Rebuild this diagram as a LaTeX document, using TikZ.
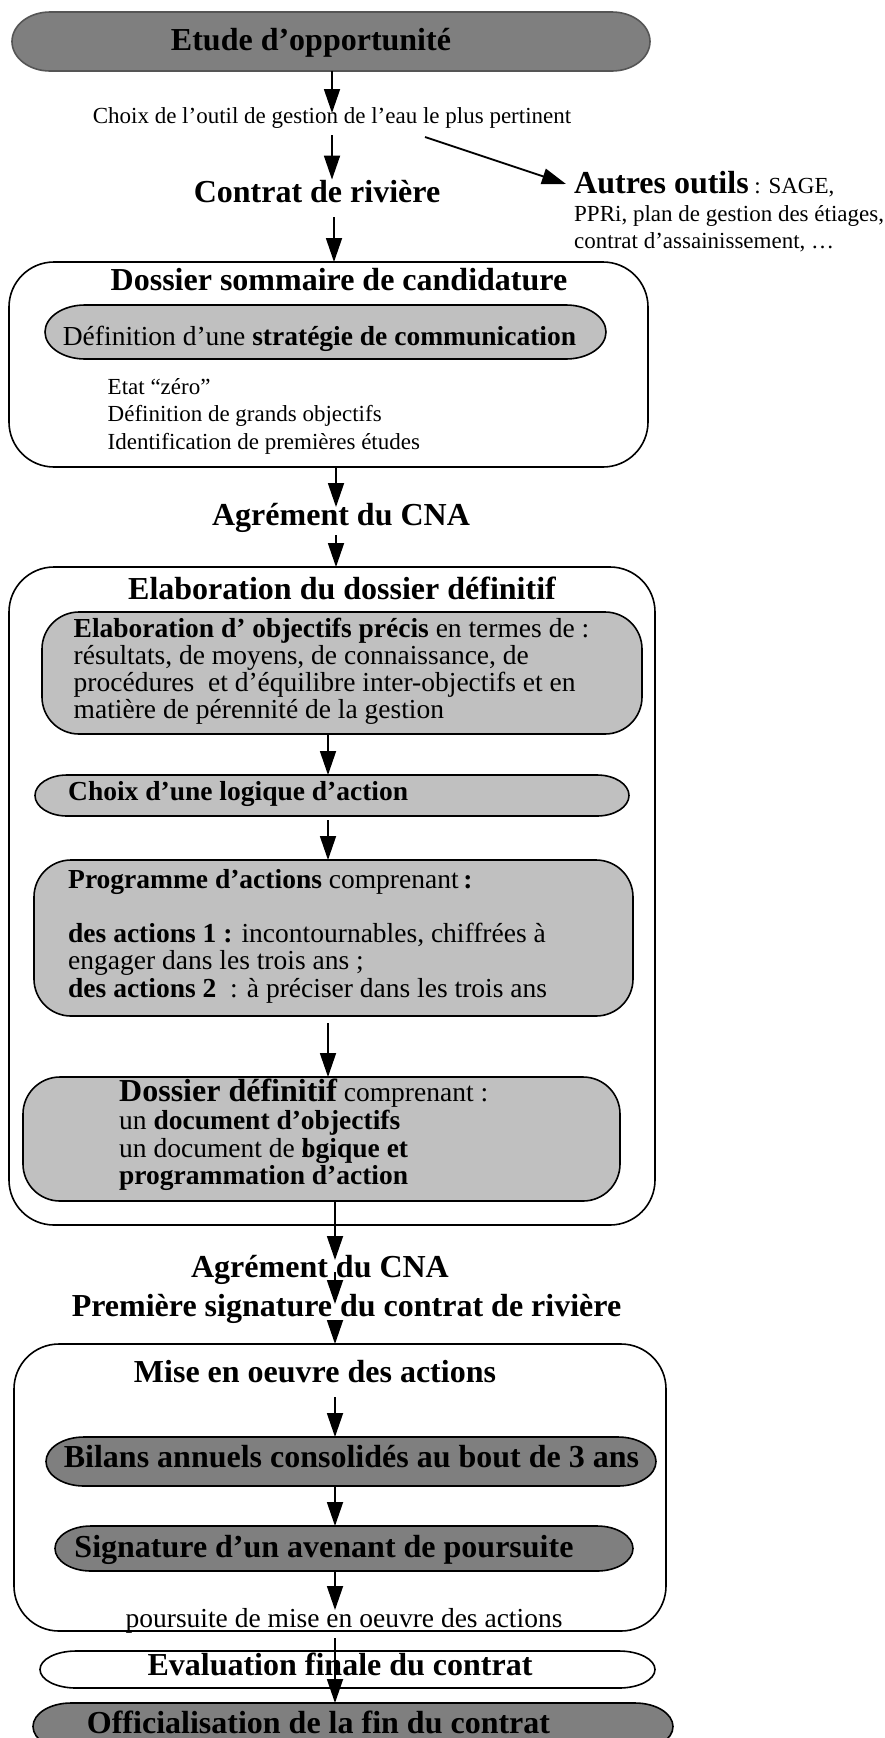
\documentclass[tikz,border=0pt]{standalone}
\usepackage{fontspec}
\setmainfont{Liberation Serif}
\usetikzlibrary{arrows.meta}
\definecolor{darkfill}{HTML}{7F7F7F}
\definecolor{lightfill}{HTML}{C0C0C0}
\definecolor{pillborder}{HTML}{555555}
% #1 style, #2 x1, #3 ytop, #4 x2, #5 ybottom, #6 rx, #7 ry, #8 node name
\newcommand\rshape[8]{%
  \path[#1] ({#2+#6},#3) -- ({#4-#6},#3)
    arc[start angle=90,end angle=0,x radius=#6pt,y radius=#7pt] -- (#4,{#5+#7})
    arc[start angle=0,end angle=-90,x radius=#6pt,y radius=#7pt] -- ({#2+#6},#5)
    arc[start angle=270,end angle=180,x radius=#6pt,y radius=#7pt] -- (#2,{#3-#7})
    arc[start angle=180,end angle=90,x radius=#6pt,y radius=#7pt] -- cycle;
  \node[shapeanchor, minimum width={(#4-#2)*1pt}, minimum height={(#3-#5)*1pt}]
    (#8) at ({(#2+#4)/2},{(#3+#5)/2}) {};}
\tikzset{
  shapeanchor/.style={rectangle, inner sep=0pt, outer sep=0pt},
  darkpill/.style={fill=darkfill, draw=pillborder, line width=1.6pt},
  darkpillb/.style={fill=darkfill, draw=black, line width=1.6pt},
  lightbox/.style={fill=lightfill, draw=black, line width=1.6pt},
  whitebox/.style={fill=white, draw=black, line width=1.6pt},
  title/.style={inner sep=0pt, font=\fontsize{32}{38}\selectfont\bfseries},
  body/.style={inner sep=0pt, font=\fontsize{27.5}{33}\selectfont},
  small/.style={inner sep=0pt, font=\fontsize{23}{28}\selectfont},
  arr/.style={line width=1.8pt, -{Triangle[length=24pt,width=16pt]}},
}
\begin{document}
\begin{tikzpicture}[x=1pt,y=1pt]
\useasboundingbox (0,0) rectangle (885,-1738);
\fill[white] (0,0) rectangle (885,-1738);

% ---- shapes ----
\rshape{darkpill}{12}{-12}{650}{-71}{38}{29.5}{etude}
\rshape{whitebox}{9}{-262}{648}{-467}{45}{45}{box1}
\rshape{lightbox}{45}{-305}{606}{-359}{40}{27}{strat}
\rshape{whitebox}{9}{-567}{655}{-1225}{45}{45}{box2}
\rshape{lightbox}{42}{-612}{642}{-734}{37}{37}{boxA}
\rshape{lightbox}{35}{-775}{629}{-816}{32}{20.5}{boxB}
\rshape{lightbox}{34}{-860}{633}{-1016}{37}{37}{boxC}
\rshape{lightbox}{23}{-1077}{620}{-1201}{37}{37}{boxD}
\rshape{whitebox}{14}{-1344}{666}{-1631}{45}{45}{box3}
\rshape{darkpillb}{46}{-1437}{656}{-1486}{38}{24.5}{bilans}
\rshape{darkpillb}{55}{-1526}{633}{-1571}{36}{22.5}{avenant}
\rshape{whitebox}{40}{-1651}{655}{-1688}{36}{18.5}{evaluation}
\rshape{darkpillb}{33}{-1703}{673}{-1750}{38}{23.5}{offic}

% ---- texts ----
\node[title, anchor=base] (tEtude) at (311,-50) {Etude d’opportunité};
\node[small, anchor=base] (tChoix) at (332,-123) {Choix de l’outil de gestion de l’eau le plus pertinent};
\node[title, anchor=base] (tContrat) at (317,-202) {Contrat de rivière};
\node[small, anchor=base west] (tAutres1) at (574,-193) {{\fontsize{32}{38}\selectfont\bfseries Autres outils} : SAGE,};
\node[small, anchor=base west] (tAutres2) at (574,-221) {PPRi, plan de gestion des étiages,};
\node[small, anchor=base west] (tAutres3) at (574,-248) {contrat d’assainissement, …};

\node[title, anchor=base] (tDossier) at (339,-290) {Dossier sommaire de candidature};
\node[body, anchor=base] (tStrat) at (319.5,-345) {Définition d’une \textbf{stratégie de communication}};
\node[small, anchor=base west] (tEtat) at (107.5,-394) {Etat “zéro”};
\node[small, anchor=base west] (tDef) at (107.5,-421.5) {Définition de grands objectifs};
\node[small, anchor=base west] (tIdent) at (107.5,-449) {Identification de premières études};

\node[title, anchor=base] (tAgr1) at (341,-525) {Agrément du CNA};

\node[title, anchor=base] (tElab) at (342,-599) {Elaboration du dossier définitif};
\node[body, anchor=base west] (tA1) at (73.5,-637) {\textbf{Elaboration d’ objectifs précis} en termes de :};
\node[body, anchor=base west] (tA2) at (73.5,-664) {résultats, de moyens, de connaissance, de};
\node[body, anchor=base west] (tA3) at (73.5,-691.5) {procédures\ \ et d’équilibre inter-objectifs et en};
\node[body, anchor=base west] (tA4) at (73.5,-718.5) {matière de pérennité de la gestion};
\node[body, anchor=base west] (tB) at (68,-800) {\textbf{Choix d’une logique d’action}};
\node[body, anchor=base west] (tC1) at (68,-888) {\textbf{Programme d’actions} comprenant\,\textbf{:}};
\node[body, anchor=base west] (tC2) at (68,-942) {\textbf{des actions 1 :} incontournables, chiffrées à};
\node[body, anchor=base west] (tC3) at (68,-969) {engager dans les trois ans ;};
\node[body, anchor=base west] (tC4) at (68,-997) {\textbf{des actions 2} \ : à préciser dans les trois ans};
\node[body, anchor=base west] (tD1) at (119,-1101) {{\fontsize{32}{38}\selectfont\bfseries Dossier définitif} comprenant :};
\node[body, anchor=base west] (tD2) at (119,-1129) {un \textbf{document d’objectifs}};
\node[body, anchor=base west] (tD3) at (119,-1157) {un document de \textbf{l\kern-.27em ogique et}};
\node[body, anchor=base west] (tD4) at (119,-1184) {\textbf{programmation d’action}};

\node[title, anchor=base] (tAgr2) at (320,-1277) {Agrément du CNA};
\node[title, anchor=base] (tSign) at (346.5,-1316) {Première signature du contrat de rivière};

\node[title, anchor=base] (tMise) at (315,-1382) {Mise en oeuvre des actions};
\node[title, anchor=base] (tBilans) at (351.5,-1467) {Bilans annuels consolidés au bout de 3 ans};
\node[title, anchor=base] (tAvenant) at (324,-1557) {Signature d’un avenant de poursuite};
\node[body, anchor=base] (tPours) at (344,-1627) {poursuite de mise en oeuvre des actions};
\node[title, anchor=base] (tEval) at (340,-1675) {Evaluation finale du contrat};
\node[title, anchor=base] (tOffic) at (318.5,-1733) {Officialisation de la fin du contrat};

% ---- connector end points ----
\coordinate (c1) at (332,-113);
\coordinate (c2s) at (332,-135);
\coordinate (c3s) at (334,-217);
\coordinate (d1) at (425,-137);
\coordinate (d2) at (566,-184);
\coordinate (c5e) at (336,-507);
\coordinate (c6s) at (336,-535);
\coordinate (c8s) at (328,-820);
\coordinate (c9s) at (328,-1023);
\coordinate (c10e) at (335,-1260);
\coordinate (c11s) at (335,-1272);
\coordinate (c11e) at (335,-1304);
\coordinate (c12s) at (335,-1325);
\coordinate (c13s) at (335,-1397);
\coordinate (c15e) at (335,-1610);
\coordinate (c16s) at (335,-1638);

% ---- connectors ----
\draw[arr] (etude.south -| c1) -- (c1);
\draw[arr] (c2s) -- (c2s |- tContrat.north);
\draw[arr] (c3s) -- (c3s |- box1.north);
\draw[arr] (d1) -- (d2);
\draw[arr] (box1.south -| c5e) -- (c5e);
\draw[arr] (c6s) -- (c6s |- box2.north);
\draw[arr] (boxA.south -| c9s) -- (boxB.north -| c9s);
\draw[arr] (c8s) -- (boxC.north -| c8s);
\draw[arr] (c9s) -- (boxD.north -| c9s);
\draw[arr] (boxD.south -| c10e) -- (c10e);
\draw[arr] (c11s) -- (c11e);
\draw[arr] (c12s) -- (box3.north -| c12s);
\draw[arr] (c13s) -- (bilans.north -| c13s);
\draw[arr] (bilans.south -| c13s) -- (avenant.north -| c13s);
\draw[arr] (avenant.south -| c15e) -- (c15e);
\draw[arr] (c16s) -- (offic.north -| c16s);
\end{tikzpicture}
\end{document}
